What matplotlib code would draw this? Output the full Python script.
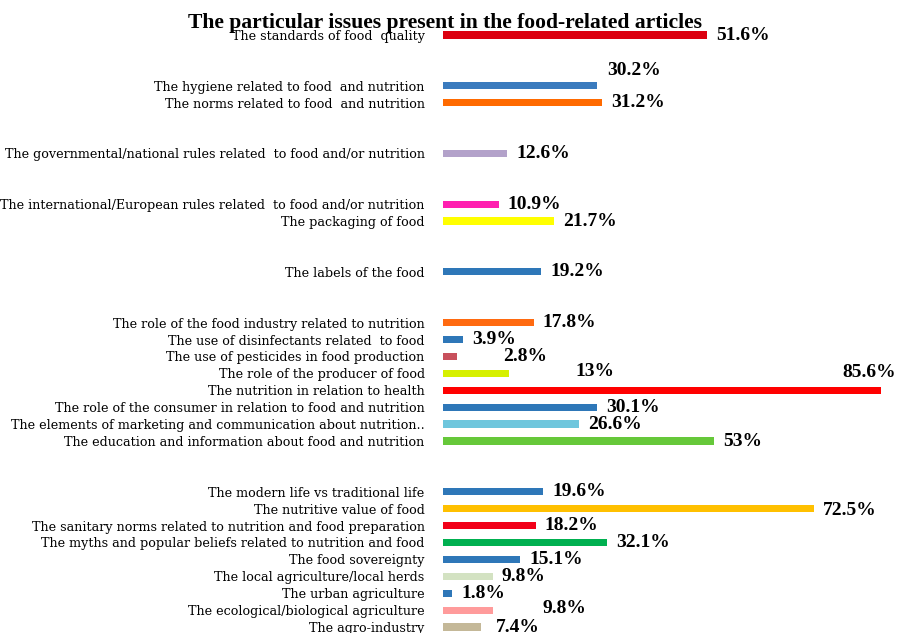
import matplotlib.pyplot as plt

# row index of each topic (gaps between groups are empty rows)
rows = [0, 3, 4, 7, 10, 11, 14,
        17, 18, 19, 20, 21, 22, 23, 24,
        27, 28, 29, 30, 31, 32, 33, 34, 35]

topics = [
    "The standards of food  quality",
    "The hygiene related to food  and nutrition",
    "The norms related to food  and nutrition",
    "The governmental/national rules related  to food and/or nutrition",
    "The international/European rules related  to food and/or nutrition",
    "The packaging of food",
    "The labels of the food",
    "The role of the food industry related to nutrition",
    "The use of disinfectants related  to food",
    "The use of pesticides in food production",
    "The role of the producer of food",
    "The nutrition in relation to health",
    "The role of the consumer in relation to food and nutrition",
    "The elements of marketing and communication about nutrition..",
    "The education and information about food and nutrition",
    "The modern life vs traditional life",
    "The nutritive value of food",
    "The sanitary norms related to nutrition and food preparation",
    "The myths and popular beliefs related to nutrition and food",
    "The food sovereignty",
    "The local agriculture/local herds",
    "The urban agriculture",
    "The ecological/biological agriculture",
    "The agro-industry",
]

values = [51.6, 30.2, 31.2, 12.6, 10.9, 21.7, 19.2,
          17.8, 3.9, 2.8, 13.0, 85.6, 30.1, 26.6, 53.0,
          19.6, 72.5, 18.2, 32.1, 15.1, 9.8, 1.8, 9.8, 7.4]

value_text = ["51.6%", "30.2%", "31.2%", "12.6%", "10.9%", "21.7%", "19.2%",
              "17.8%", "3.9%", "2.8%", "13%", "85.6%", "30.1%", "26.6%", "53%",
              "19.6%", "72.5%", "18.2%", "32.1%", "15.1%", "9.8%", "1.8%", "9.8%", "7.4%"]

colors = ["#DC0010", "#3A7BBE", "#FF6A00", "#B3A2CA", "#FF1FB0", "#FFFF00", "#2E77B8",
          "#FF6A10", "#2E77B8", "#C8505C", "#D6F000", "#FF0000", "#2E77B8", "#6EC6DD", "#66C83A",
          "#2E77B8", "#FFC000", "#F20018", "#00B050", "#2E77B8", "#D3E2C2", "#2E77B8", "#FF9B9B", "#C4B898"]

# label nudges in pixels (dx, dy) where the value label is not beside the bar end
nudge = {1: (10, 15), 9: (46, 0), 10: (66, 2), 11: (-38, 18),
         16: (9, -2), 22: (50, 2), 23: (15, 0)}

fig = plt.figure(figsize=(8.99, 6.33), dpi=100)
ax = fig.add_axes([0.4925, 0.0, 0.4975, 1.0])

ax.barh(rows, values, height=0.43, color=colors)
ax.set_xlim(0, 87.4)
ax.set_ylim(35.35, -2.07)

for i, (r, v, t) in enumerate(zip(rows, values, value_text)):
    dx, dy = nudge.get(i, (9, 0))
    ax.annotate(t, (v, r), xytext=(dx, dy), textcoords="offset pixels",
                ha="left", va="center", fontsize=14, fontweight="bold",
                family="Liberation Serif", annotation_clip=False)

ax.set_yticks(rows)
ax.set_yticklabels(topics, family="DejaVu Serif", fontsize=9.2)
ax.tick_params(axis="y", length=0, pad=13)
ax.set_xticks([])
for s in ax.spines.values():
    s.set_visible(False)

fig.text(0.495, 0.963, "The particular issues present in the food-related articles",
         ha="center", va="center", fontsize=15.6, fontweight="bold",
         family="Liberation Serif")

fig.savefig("out.png", dpi=100)
